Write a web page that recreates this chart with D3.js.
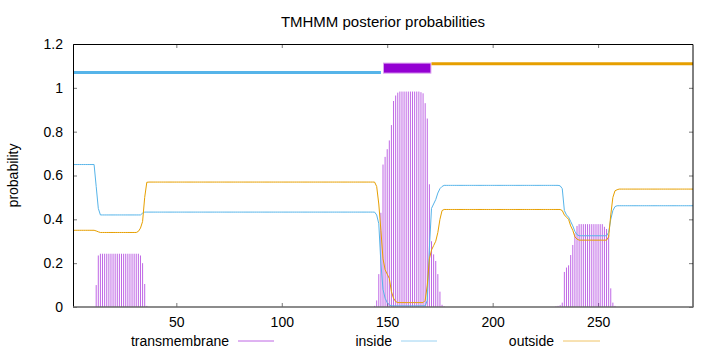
<!DOCTYPE html>
<html><head><meta charset="utf-8">
<script src="https://cdn.jsdelivr.net/npm/d3@7"></script>
<style>body{margin:0;background:#fff} text{font-family:"Liberation Sans",Arial,sans-serif;fill:#000}</style>
</head><body><svg id="c" width="720" height="352"></svg>
<script>
const title = "TMHMM posterior probabilities";
const yAxisLabel = "probability";
const seriesNames = ["transmembrane", "inside", "outside"];
const seriesColors = ["#9400d3", "#56b4e9", "#e69f00"];
const xTicks = [50, 100, 150, 200, 250];
const yTicks = [0, 0.2, 0.4, 0.6, 0.8, 1, 1.2];
const yTickLabels = ["0", "0.2", "0.4", "0.6", "0.8", "1", "1.2"];
const xDomain = [1, 295];
const yDomain = [0, 1.2];
// predicted topology segments (residue ranges) and the levels they are drawn at
const insideSegment = [1, 147];
const tmSegment = [148, 170];
const outsideSegment = [171, 295];
const segmentLevels = {inside: 1.07, tm: 1.09, outside: 1.11};

// posterior probabilities per residue 1..295
const transmembrane = [
0,0,0,0,0,0,0,0,0,0,
0,0.1,0.235,0.243,0.243,0.243,0.243,0.243,0.243,0.243,
0.243,0.243,0.243,0.243,0.243,0.243,0.243,0.243,0.243,0.243,
0.243,0.243,0.235,0.2,0.105,0.005,0,0,0,0,
0,0,0,0,0,0,0,0,0,0,
0,0,0,0,0,0,0,0,0,0,
0,0,0,0,0,0,0,0,0,0,
0,0,0,0,0,0,0,0,0,0,
0,0,0,0,0,0,0,0,0,0,
0,0,0,0,0,0,0,0,0,0,
0,0,0,0,0,0,0,0,0,0,
0,0,0,0,0,0,0,0,0,0,
0,0,0,0,0,0,0,0,0,0,
0,0,0,0,0,0,0,0,0,0,
0,0,0,0.005,0.03,0.15,0.43,0.65,0.685,0.72,
0.76,0.83,0.94,0.965,0.978,0.983,0.983,0.983,0.983,0.983,
0.983,0.983,0.983,0.983,0.983,0.98,0.975,0.93,0.86,0.56,
0.3,0.24,0.21,0.15,0.07,0.01,0.003,0,0,0,
0,0,0,0,0,0,0,0,0,0,
0,0,0,0,0,0,0,0,0,0,
0,0,0,0,0,0,0,0,0,0,
0,0,0,0,0,0,0,0,0,0,
0,0,0,0,0,0,0,0,0,0.003,
0.005,0.008,0.02,0.16,0.18,0.19,0.237,0.283,0.336,0.37,
0.378,0.378,0.378,0.378,0.378,0.378,0.378,0.378,0.378,0.378,
0.378,0.378,0.366,0.356,0.33,0.085,0.02,0.005,0,0,
0,0,0,0,0,0,0,0,0,0,
0,0,0,0,0,0,0,0,0,0,
0,0,0,0,0,0,0,0,0,0,
0,0,0,0,0
];
const inside = [
0.65,0.65,0.65,0.65,0.65,0.65,0.65,0.65,0.65,0.65,
0.65,0.55,0.45,0.42,0.42,0.42,0.42,0.42,0.42,0.42,
0.42,0.42,0.42,0.42,0.42,0.42,0.42,0.42,0.42,0.42,
0.42,0.42,0.42,0.428,0.433,0.433,0.433,0.433,0.433,0.433,
0.433,0.433,0.433,0.433,0.433,0.433,0.433,0.433,0.433,0.433,
0.433,0.433,0.433,0.433,0.433,0.433,0.433,0.433,0.433,0.433,
0.433,0.433,0.433,0.433,0.433,0.433,0.433,0.433,0.433,0.433,
0.433,0.433,0.433,0.433,0.433,0.433,0.433,0.433,0.433,0.433,
0.433,0.433,0.433,0.433,0.433,0.433,0.433,0.433,0.433,0.433,
0.433,0.433,0.433,0.433,0.433,0.433,0.433,0.433,0.433,0.433,
0.433,0.433,0.433,0.433,0.433,0.433,0.433,0.433,0.433,0.433,
0.433,0.433,0.433,0.433,0.433,0.433,0.433,0.433,0.433,0.433,
0.433,0.433,0.433,0.433,0.433,0.433,0.433,0.433,0.433,0.433,
0.433,0.433,0.433,0.433,0.433,0.433,0.433,0.433,0.433,0.433,
0.433,0.433,0.433,0.433,0.42,0.38,0.2,0.08,0.04,0.02,
0.01,0.005,0.005,0.005,0.005,0.005,0.005,0.005,0.005,0.005,
0.005,0.005,0.005,0.005,0.005,0.005,0.005,0.005,0.03,0.27,
0.45,0.47,0.49,0.52,0.54,0.55,0.555,0.555,0.555,0.555,
0.555,0.555,0.555,0.555,0.555,0.555,0.555,0.555,0.555,0.555,
0.555,0.555,0.555,0.555,0.555,0.555,0.555,0.555,0.555,0.555,
0.555,0.555,0.555,0.555,0.555,0.555,0.555,0.555,0.555,0.555,
0.555,0.555,0.555,0.555,0.555,0.555,0.555,0.555,0.555,0.555,
0.555,0.555,0.555,0.555,0.555,0.555,0.555,0.555,0.555,0.555,
0.555,0.553,0.54,0.44,0.42,0.41,0.39,0.37,0.345,0.33,
0.325,0.325,0.325,0.325,0.325,0.325,0.325,0.325,0.325,0.325,
0.325,0.325,0.325,0.325,0.34,0.4,0.44,0.458,0.462,0.462,
0.462,0.462,0.462,0.462,0.462,0.462,0.462,0.462,0.462,0.462,
0.462,0.462,0.462,0.462,0.462,0.462,0.462,0.462,0.462,0.462,
0.462,0.462,0.462,0.462,0.462,0.462,0.462,0.462,0.462,0.462,
0.462,0.462,0.462,0.462,0.462
];
const outside = [
0.35,0.35,0.35,0.35,0.35,0.35,0.35,0.35,0.35,0.35,
0.35,0.347,0.343,0.34,0.34,0.34,0.34,0.34,0.34,0.34,
0.34,0.34,0.34,0.34,0.34,0.34,0.34,0.34,0.34,0.34,
0.34,0.345,0.36,0.39,0.5,0.569,0.57,0.57,0.57,0.57,
0.57,0.57,0.57,0.57,0.57,0.57,0.57,0.57,0.57,0.57,
0.57,0.57,0.57,0.57,0.57,0.57,0.57,0.57,0.57,0.57,
0.57,0.57,0.57,0.57,0.57,0.57,0.57,0.57,0.57,0.57,
0.57,0.57,0.57,0.57,0.57,0.57,0.57,0.57,0.57,0.57,
0.57,0.57,0.57,0.57,0.57,0.57,0.57,0.57,0.57,0.57,
0.57,0.57,0.57,0.57,0.57,0.57,0.57,0.57,0.57,0.57,
0.57,0.57,0.57,0.57,0.57,0.57,0.57,0.57,0.57,0.57,
0.57,0.57,0.57,0.57,0.57,0.57,0.57,0.57,0.57,0.57,
0.57,0.57,0.57,0.57,0.57,0.57,0.57,0.57,0.57,0.57,
0.57,0.57,0.57,0.57,0.57,0.57,0.57,0.57,0.57,0.57,
0.57,0.57,0.57,0.57,0.55,0.47,0.35,0.22,0.17,0.15,
0.13,0.07,0.04,0.025,0.02,0.02,0.02,0.02,0.02,0.02,
0.02,0.02,0.02,0.02,0.02,0.02,0.02,0.03,0.1,0.22,
0.26,0.28,0.3,0.34,0.4,0.44,0.445,0.445,0.445,0.445,
0.445,0.445,0.445,0.445,0.445,0.445,0.445,0.445,0.445,0.445,
0.445,0.445,0.445,0.445,0.445,0.445,0.445,0.445,0.445,0.445,
0.445,0.445,0.445,0.445,0.445,0.445,0.445,0.445,0.445,0.445,
0.445,0.445,0.445,0.445,0.445,0.445,0.445,0.445,0.445,0.445,
0.445,0.445,0.445,0.445,0.445,0.445,0.445,0.445,0.445,0.445,
0.445,0.445,0.44,0.42,0.41,0.4,0.37,0.35,0.32,0.31,
0.305,0.305,0.305,0.305,0.305,0.305,0.305,0.305,0.305,0.305,
0.305,0.305,0.305,0.305,0.32,0.42,0.5,0.53,0.535,0.538,
0.538,0.538,0.538,0.538,0.538,0.538,0.538,0.538,0.538,0.538,
0.538,0.538,0.538,0.538,0.538,0.538,0.538,0.538,0.538,0.538,
0.538,0.538,0.538,0.538,0.538,0.538,0.538,0.538,0.538,0.538,
0.538,0.538,0.538,0.538,0.538
];

const svg = d3.select("#c");
const L = 73, R = 693, T = 44, B = 307;
const x = d3.scaleLinear().domain(xDomain).range([L, R]);
const y = d3.scaleLinear().domain(yDomain).range([B, T]);

// title & axis label
svg.append("text").attr("x", 383).attr("y", 27).attr("text-anchor", "middle")
  .style("font-size", "15px").text(title);
svg.append("text").attr("transform", `translate(18,${(T + B) / 2}) rotate(-90)`)
  .attr("text-anchor", "middle").style("font-size", "14px").text(yAxisLabel);

// axes
const gx = svg.append("g").attr("transform", `translate(0,${B})`)
  .call(d3.axisBottom(x).tickValues(xTicks).tickSize(-4).tickSizeOuter(0).tickPadding(10));
const gy = svg.append("g").attr("transform", `translate(${L},0)`)
  .call(d3.axisLeft(y).tickValues(yTicks).tickFormat((d, i) => yTickLabels[i]).tickSize(-4).tickSizeOuter(0).tickPadding(10));
const gr = svg.append("g").attr("transform", `translate(${R},0)`)
  .call(d3.axisRight(y).tickValues(yTicks).tickFormat("").tickSize(-4).tickSizeOuter(0));
const gt = svg.append("g").attr("transform", `translate(0,${T})`)
  .call(d3.axisTop(x).tickValues(xTicks).tickFormat("").tickSize(-4).tickSizeOuter(0));
[gx, gy, gr, gt].forEach(g => {
  g.select(".domain").remove();
  g.selectAll(".tick line").attr("stroke", "#777");
  g.selectAll(".tick text").style("font-size", "14px").style("font-family", "Liberation Sans, Arial, sans-serif").attr("fill", "#000");
});

// impulses for transmembrane
const residues = d3.range(1, transmembrane.length + 1);
svg.append("g").selectAll("line").data(residues.filter(i => transmembrane[i - 1] > 0)).join("line")
  .attr("x1", i => x(i)).attr("x2", i => x(i))
  .attr("y1", y(0)).attr("y2", i => y(transmembrane[i - 1]))
  .attr("stroke", seriesColors[0]).attr("stroke-opacity", 0.6).attr("stroke-width", 1);

// inside / outside curves
const line = d3.line().x((d, i) => x(i + 1)).y(d => y(d));
svg.append("path").datum(inside).attr("d", line).attr("fill", "none")
  .attr("stroke", seriesColors[1]).attr("stroke-width", 1);
svg.append("path").datum(outside).attr("d", line).attr("fill", "none")
  .attr("stroke", seriesColors[2]).attr("stroke-width", 1);

// topology bars
svg.append("line").attr("x1", x(insideSegment[0])).attr("x2", x(insideSegment[1]))
  .attr("y1", y(segmentLevels.inside)).attr("y2", y(segmentLevels.inside))
  .attr("stroke", seriesColors[1]).attr("stroke-width", 3);
svg.append("rect").attr("x", x(tmSegment[0]) + 0.5).attr("y", y(segmentLevels.tm) - 5)
  .attr("width", x(tmSegment[1]) - x(tmSegment[0]) + 1).attr("height", 10)
  .attr("fill", seriesColors[0]).attr("stroke", "#dba0ef").attr("stroke-width", 1);
svg.append("line").attr("x1", x(outsideSegment[0])).attr("x2", x(outsideSegment[1]))
  .attr("y1", y(segmentLevels.outside)).attr("y2", y(segmentLevels.outside))
  .attr("stroke", seriesColors[2]).attr("stroke-width", 3);

// border
svg.append("path").attr("d", `M${L + 0.5},${B}V${T + 0.5}H${R}V${B}`).attr("fill", "none").attr("stroke", "#000").attr("stroke-width", 1);
svg.append("line").attr("x1", L).attr("x2", R + 0.5).attr("y1", B).attr("y2", B).attr("stroke", "#666").attr("stroke-width", 1.5);

// legend
const legendTextEnd = [229, 392, 554];
const legendLine = [[238, 274], [401, 437], [563, 600]];
seriesNames.forEach((name, k) => {
  svg.append("text").attr("x", legendTextEnd[k]).attr("y", 346).attr("text-anchor", "end")
    .style("font-size", "14px").text(name);
  svg.append("line").attr("x1", legendLine[k][0]).attr("x2", legendLine[k][1])
    .attr("y1", 341).attr("y2", 341).attr("stroke", seriesColors[k]).attr("stroke-opacity", 0.6).attr("stroke-width", 1);
});
</script></body></html>
